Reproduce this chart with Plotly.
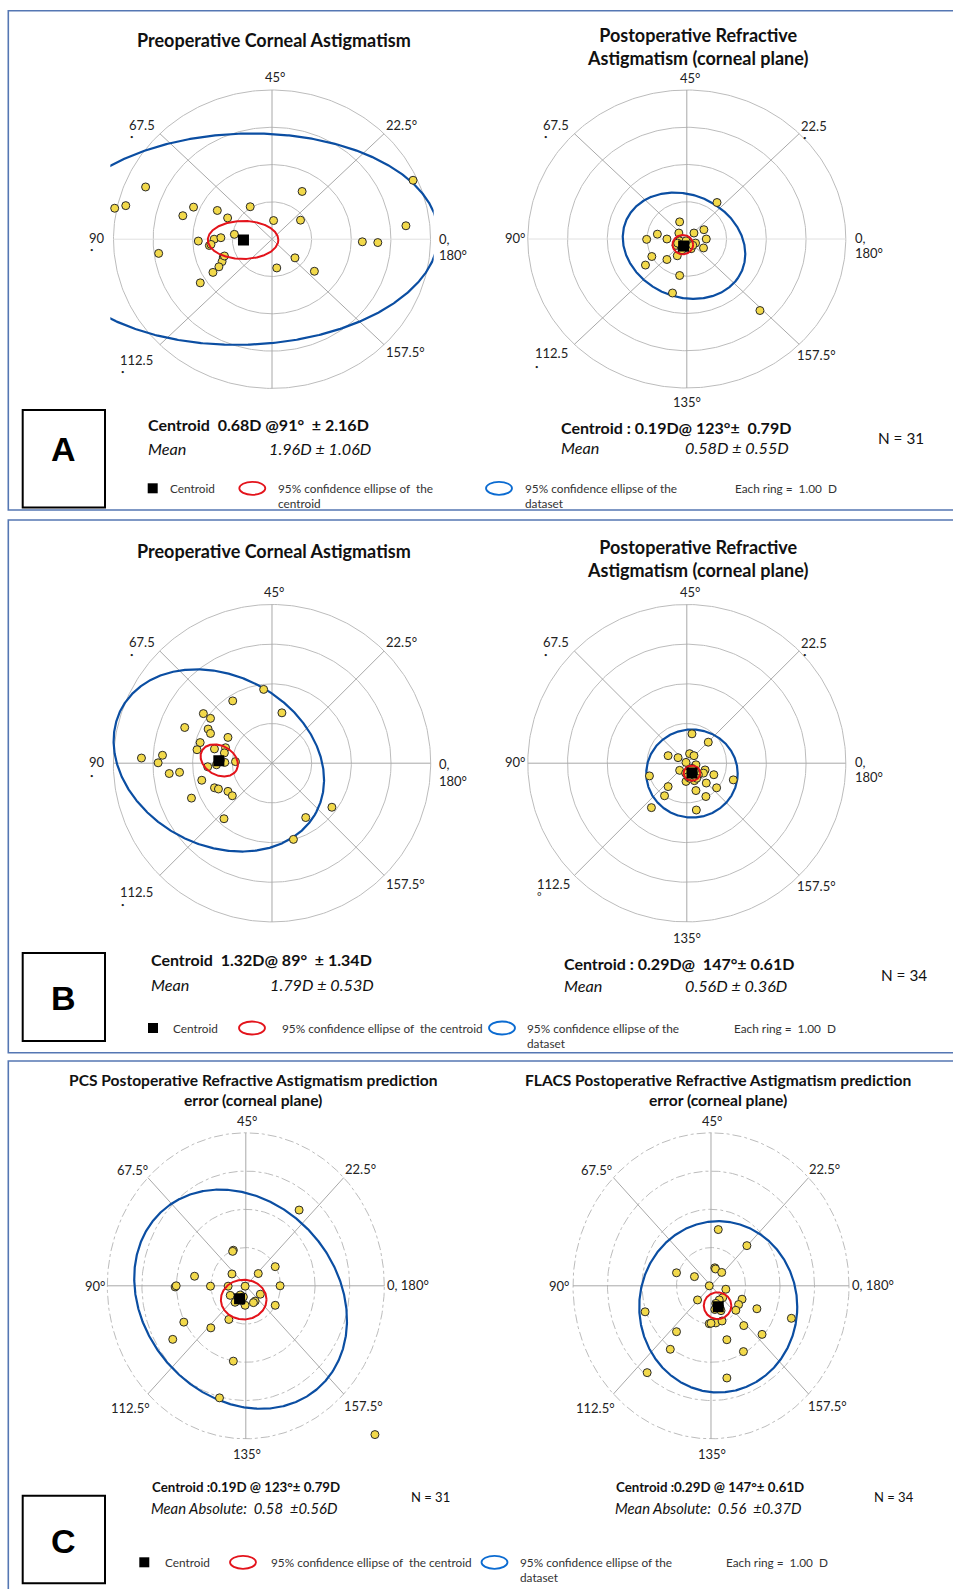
import numpy as np
import plotly.graph_objects as go

W, H = 953, 1589
FONT = "Lato, 'Open Sans', sans-serif"

# ---------------- data: double-angle vector components (D) ----------------
a_pre_x = [-3.97,-3.69,-3.19,-2.25,-1.98,-1.38,-1.12,-0.55,0.76,0.04,0.72,3.56,3.38,2.28,2.67,-1.86,-1.58,-1.46,-1.29,-0.95,-2.86,-1.23,-1.26,-1.34,-1.49,-1.81,0.58,0.12,1.07,-1.20,-1.54]
a_pre_y = [0.83,0.90,1.40,0.63,0.86,0.77,0.57,0.87,1.28,0.50,0.51,1.58,0.36,-0.07,-0.09,-0.05,-0.17,0.00,0.04,0.13,-0.38,-0.48,-0.60,-0.74,-0.89,-1.17,-0.50,-0.77,-0.86,-0.45,-0.14]
a_post_x = [0.76,-0.18,-0.74,-1.01,-0.50,-0.20,0.18,0.43,0.49,0.42,0.22,-0.27,0.07,-0.24,-0.50,-0.88,-1.04,-0.18,-0.36,1.84,-0.10,-0.03,-0.14,0.03,0.11,-0.06,-0.18,0.15,-0.12,-0.23,-0.02]
a_post_y = [0.98,0.46,0.13,-0.01,0.00,0.16,0.16,0.25,0.00,-0.24,-0.11,-0.17,-0.20,-0.45,-0.55,-0.47,-0.70,-0.98,-1.45,-1.92,-0.13,-0.23,-0.21,-0.11,-0.26,-0.17,-0.05,-0.17,-0.29,-0.11,-0.05]
b_pre_x = [-0.21,-0.99,0.25,-1.73,-1.55,-2.20,-1.61,-1.55,-1.11,-1.81,-1.89,-1.45,-1.17,-1.20,-3.29,-2.76,-2.87,-1.19,-0.92,-1.62,-2.59,-2.33,-1.77,-1.45,-1.35,-1.11,-1.00,-2.03,-1.21,1.51,0.85,0.54,-1.30,-1.40]
b_pre_y = [1.86,1.57,1.27,1.25,1.13,0.90,0.86,0.75,0.65,0.52,0.34,0.36,0.39,0.26,0.13,0.20,0.01,0.02,0.04,-0.09,-0.26,-0.23,-0.43,-0.62,-0.65,-0.71,-0.82,-0.88,-1.40,-1.11,-1.37,-1.92,0.08,-0.04]
b_post_x = [0.13,0.54,-0.47,-0.22,0.07,0.18,-0.02,0.23,-0.18,-0.94,0.46,0.42,0.68,1.17,0.49,0.75,0.23,0.48,-0.47,-0.56,-0.89,0.24,-0.02,0.19,0.07,0.29,0.11,0.15,0.05,-0.03,0.19,0.03,0.13,0.25]
b_post_y = [0.74,0.53,0.19,0.14,0.24,0.19,0.02,-0.04,-0.18,-0.32,-0.17,-0.25,-0.29,-0.42,-0.50,-0.62,-0.69,-0.84,-0.59,-0.82,-1.12,-1.18,-0.46,-0.44,-0.38,-0.29,-0.21,-0.29,-0.17,-0.25,-0.19,-0.34,-0.13,-0.38]
c_pcs_x = [1.54,-0.36,-0.38,0.85,-0.40,0.36,-1.48,-2.04,-2.01,-1.02,-0.51,-0.02,0.99,-0.45,0.42,0.27,0.22,-0.02,0.85,-0.49,-1.79,-1.01,-2.11,-0.36,-0.76,3.73,-0.24,-0.12,-0.16,-0.31,-0.07]
c_pcs_y = [1.98,0.93,0.90,0.50,0.31,0.32,0.25,-0.03,0.00,-0.01,-0.01,-0.01,0.00,-0.25,-0.22,-0.40,-0.44,-0.51,-0.51,-0.88,-0.95,-1.10,-1.40,-1.97,-2.93,-3.89,-0.33,-0.39,-0.24,-0.43,-0.29]
c_flacs_x = [0.21,1.04,0.11,0.13,0.31,-1.00,-0.48,-0.05,0.43,-0.39,0.34,0.24,0.90,0.80,0.72,1.33,-1.91,2.33,-0.05,0.14,0.32,0.95,1.48,-1.00,0.46,-1.18,0.94,-1.85,0.46,0.00,0.14,0.26,0.11,0.29]
c_flacs_y = [1.47,1.05,0.47,0.44,0.35,0.34,0.24,0.00,-0.09,-0.37,-0.31,-0.37,-0.35,-0.49,-0.64,-0.60,-0.68,-0.85,-0.99,-0.97,-0.92,-1.04,-1.27,-1.20,-1.41,-1.66,-1.72,-2.27,-2.41,-0.98,-0.46,-0.57,-0.62,-0.65]

# centroids (x, y) in D
centroids = [(-0.72, -0.02), (-0.08, -0.19), (-1.34, 0.06), (0.13, -0.25), (-0.18, -0.34), (0.21, -0.55)]
# 95% ellipses: (cx, cy, semi-a, semi-b, tilt deg)
red_ellipses = [(-0.73, -0.02, 0.89, 0.51, 0), (-0.10, -0.15, 0.26, 0.26, 0), (-1.33, 0.07, 0.50, 0.37, -30),
                (0.13, -0.25, 0.21, 0.19, 0), (-0.06, -0.36, 0.66, 0.52, 0), (0.19, -0.52, 0.40, 0.35, 0)]
blue_ellipses = [(-0.70, 0.00, 4.90, 2.83, 2), (-0.07, -0.18, 1.61, 1.35, -32), (-1.34, 0.07, 2.78, 2.14, -28),
                 (0.13, -0.26, 1.15, 1.11, 0), (-0.15, -0.35, 3.26, 2.65, -35), (0.21, -0.55, 2.29, 2.24, 0)]
ring_values = [1, 2, 3, 4]  # each ring = 1.00 D
spoke_angles = [0, 45, 90, 135]  # plot angles (2x axis)

points = [(a_pre_x, a_pre_y), (a_post_x, a_post_y), (b_pre_x, b_pre_y),
          (b_post_x, b_post_y), (c_pcs_x, c_pcs_y), (c_flacs_x, c_flacs_y)]

# subplot geometry in pixels: centre x, centre y, horizontal radius, vertical radius of the 4 D ring
geom = [(272.0, 239.2, 158.5, 149.2), (686.8, 239.0, 159.0, 149.0),
        (272.0, 763.2, 158.7, 158.7), (686.8, 763.2, 159.0, 158.7),
        (245.8, 1285.8, 138.5, 153.0), (711.0, 1285.8, 138.0, 153.0)]
ring_dash = ["solid", "solid", "solid", "solid", "dashdot", "dashdot"]

R = 4.08
fig = go.Figure()
layout_axes = {}


def ellipse(cx, cy, a, b, phi):
    t = np.linspace(0, 2 * np.pi, 721)
    p = np.radians(phi)
    x = cx + a * np.cos(t) * np.cos(p) - b * np.sin(t) * np.sin(p)
    y = cy + a * np.cos(t) * np.sin(p) + b * np.sin(t) * np.cos(p)
    return x, y


for i in range(6):
    n = i + 1
    xa = "x" if n == 1 else f"x{n}"
    ya = "y" if n == 1 else f"y{n}"
    cx, cy, rh, rv = geom[i]
    hw = rh * R / 4
    hh = rv * R / 4
    layout_axes["xaxis" if n == 1 else f"xaxis{n}"] = dict(
        domain=[(cx - hw) / W, (cx + hw) / W], range=[-R, R], visible=False, anchor=ya, fixedrange=True)
    layout_axes["yaxis" if n == 1 else f"yaxis{n}"] = dict(
        domain=[1 - (cy + hh) / H, 1 - (cy - hh) / H], range=[-R, R], visible=False, anchor=xa, fixedrange=True)

    t = np.linspace(0, 2 * np.pi, 361)
    for r in ring_values:
        fig.add_trace(go.Scatter(x=r * np.cos(t), y=r * np.sin(t), mode="lines", xaxis=xa, yaxis=ya,
                                 line=dict(color="#bcbcbc", width=1, dash=ring_dash[i]),
                                 hoverinfo="skip", showlegend=False))
    for ang in spoke_angles:
        a = np.radians(ang)
        rr = np.array([-ring_values[-1], ring_values[-1]])
        col = "#e0e0e0" if (ang == 0 and i < 2) else "#a8a8a8"
        fig.add_trace(go.Scatter(x=rr * np.cos(a), y=rr * np.sin(a), mode="lines", xaxis=xa, yaxis=ya,
                                 line=dict(color=col, width=1), hoverinfo="skip", showlegend=False))
    bx, by = ellipse(*blue_ellipses[i])
    fig.add_trace(go.Scatter(x=bx, y=by, mode="lines", xaxis=xa, yaxis=ya,
                             line=dict(color="#0b4ea2", width=2.2), hoverinfo="skip", showlegend=False))
    px_, py_ = points[i]
    fig.add_trace(go.Scatter(x=px_, y=py_, mode="markers", xaxis=xa, yaxis=ya, cliponaxis=False,
                             marker=dict(size=8, color="#f2d94a", line=dict(color="#2a2a2a", width=1)),
                             showlegend=False))
    rx, ry = ellipse(*red_ellipses[i])
    fig.add_trace(go.Scatter(x=rx, y=ry, mode="lines", xaxis=xa, yaxis=ya,
                             line=dict(color="#e3131b", width=2), hoverinfo="skip", showlegend=False))
    fig.add_trace(go.Scatter(x=[centroids[i][0]], y=[centroids[i][1]], mode="markers", xaxis=xa, yaxis=ya,
                             marker=dict(size=11, color="black", symbol="square"), showlegend=False))

ann_list = []


def ann(text, x, y, size=12, bold=False, italic=False, xanchor="center", yanchor="middle",
        color="#222222", align="center", family=FONT):
    if bold:
        text = f"<b>{text}</b>"
    if italic:
        text = f"<i>{text}</i>"
    ann_list.append(dict(text=text, x=x / W, y=1 - y / H, xref="paper", yref="paper", showarrow=False,
                         font=dict(family=family, size=size, color=color), xanchor=xanchor, yanchor=yanchor,
                         align=align))


NB = "\u00a0"
# titles
TT = 18
ann("Preoperative Corneal Astigmatism", 273.7, 40, size=TT, bold=True, color="#111")
ann("Postoperative Refractive<br>Astigmatism (corneal plane)", 697.3, 46.7, size=TT, bold=True, color="#111")
ann("Preoperative Corneal Astigmatism", 273.8, 551, size=TT, bold=True, color="#111")
ann("Postoperative Refractive<br>Astigmatism (corneal plane)", 697.7, 559, size=TT, bold=True, color="#111")
ann("PCS Postoperative Refractive Astigmatism prediction<br>error (corneal plane)", 253.2, 1089.7, size=15.6,
    bold=True, color="#111")
ann("FLACS Postoperative Refractive Astigmatism prediction<br>error (corneal plane)", 717.7, 1089.7, size=15.6,
    bold=True, color="#111")

# angle labels
LS = 13
dot = "•"
# A-left
for (t_, x_, y_) in [("45°", 275, 77.3), ("67.5", 141.7, 125), ("22.5°", 401.7, 125), ("90", 96.7, 237.7),
                     ("112.5", 136.7, 360), ("157.5°", 405, 352.3)]:
    ann(t_, x_, y_, size=LS)
for (x_, y_) in [(131.7, 137), (91.7, 249.3), (122.3, 371.7)]:
    ann(dot, x_, y_, size=6)
ann("0,", 437, 239.3, size=LS, xanchor="left")
ann("180°", 437, 255, size=LS, xanchor="left")
# A-right
for (t_, x_, y_) in [("45°", 690.3, 78.3), ("67.5", 556, 125), ("22.5", 814.3, 126), ("90°", 515.3, 237.7),
                     ("112.5", 551, 352.7), ("157.5°", 816, 355), ("135°", 686.7, 402.3)]:
    ann(t_, x_, y_, size=LS)
for (x_, y_) in [(545.3, 136.7), (804.3, 137.3), (536, 366)]:
    ann(dot, x_, y_, size=6)
ann("0,", 852.7, 237.7, size=LS, xanchor="left")
ann("180°", 852.7, 252.7, size=LS, xanchor="left")
# B-left
for (t_, x_, y_) in [("45°", 274.3, 591.7), ("67.5", 141.7, 641.7), ("22.5°", 401.7, 642.3), ("90", 96.7, 762.3),
                     ("112.5", 136.7, 891.7), ("157.5°", 405, 884.3)]:
    ann(t_, x_, y_, size=LS)
for (x_, y_) in [(131, 654.3), (91, 775), (122.3, 904)]:
    ann(dot, x_, y_, size=6)
ann("0,", 437, 764.3, size=LS, xanchor="left")
ann("180°", 437, 780.7, size=LS, xanchor="left")
# B-right
for (t_, x_, y_) in [("45°", 690.3, 592.3), ("67.5", 556, 641.7), ("22.5", 814.3, 642.7), ("90°", 515.3, 761.7),
                     ("112.5", 553.3, 884.3), ("157.5°", 816, 886), ("135°", 687, 938)]:
    ann(t_, x_, y_, size=LS)
for (x_, y_) in [(545.3, 654.3), (804.3, 655)]:
    ann(dot, x_, y_, size=6)
ann("°", 539.3, 897, size=11)
ann("0,", 852.7, 761.7, size=LS, xanchor="left")
ann("180°", 852.7, 777.3, size=LS, xanchor="left")
# C-left / C-right
for (t_, x_, y_) in [("45°", 246.7, 1121), ("67.5°", 132.7, 1170), ("22.5°", 360, 1169.3), ("90°", 95, 1285.7),
                     ("0, 180°", 408.3, 1285), ("112.5°", 130.7, 1408.3), ("157.5°", 363.3, 1405.7),
                     ("135°", 247.3, 1454.3),
                     ("45°", 712, 1121), ("67.5°", 596.7, 1170), ("22.5°", 824.3, 1169.3), ("90°", 558.7, 1285.7),
                     ("0, 180°", 872.7, 1285), ("112.5°", 595.3, 1407.7), ("157.5°", 827.7, 1405.7),
                     ("135°", 712, 1454.3)]:
    ann(t_, x_, y_, size=LS)

# statistics text
ST = 16
SI = 16.2
ann(f"Centroid{NB}{NB}0.68D @91°{NB}{NB}± 2.16D", 146, 424.3, size=ST, bold=True, xanchor="left", color="#111")
ann("Mean", 146, 448.3, size=SI, italic=True, xanchor="left", color="#111")
ann("1.96D ± 1.06D", 266.7, 448.3, size=SI, italic=True, xanchor="left", color="#111")
ann(f"Centroid : 0.19D@ 123°±{NB}{NB}0.79D", 558.7, 427.3, size=ST, bold=True, xanchor="left", color="#111")
ann("Mean", 558.7, 447.3, size=SI, italic=True, xanchor="left", color="#111")
ann("0.58D ± 0.55D", 682.7, 447.3, size=SI, italic=True, xanchor="left", color="#111")
ann("N = 31", 876, 438.3, size=15.3, xanchor="left", color="#111")

ann(f"Centroid{NB}{NB}1.32D@ 89°{NB}{NB}± 1.34D", 149, 959.5, size=ST, bold=True, xanchor="left", color="#111")
ann("Mean", 149, 984, size=SI, italic=True, xanchor="left", color="#111")
ann("1.79D ± 0.53D", 268, 984, size=SI, italic=True, xanchor="left", color="#111")
ann(f"Centroid : 0.29D@{NB}{NB}147°± 0.61D", 562, 963, size=ST, bold=True, xanchor="left", color="#111")
ann("Mean", 562, 985, size=SI, italic=True, xanchor="left", color="#111")
ann("0.56D ± 0.36D", 682.7, 985, size=SI, italic=True, xanchor="left", color="#111")
ann("N = 34", 879, 975, size=15.3, xanchor="left", color="#111")

ann("Centroid :0.19D @ 123°± 0.79D", 150, 1486.7, size=13.3, bold=True, xanchor="left", color="#111")
ann(f"Mean Absolute:{NB}{NB}0.58{NB}{NB}±0.56D", 149.3, 1508.3, size=14.8, italic=True, xanchor="left",
    color="#111")
ann("N = 31", 409.3, 1497.3, size=13, xanchor="left", color="#111")
ann("Centroid :0.29D @ 147°± 0.61D", 614, 1486.7, size=13.3, bold=True, xanchor="left", color="#111")
ann(f"Mean Absolute:{NB}{NB}0.56{NB}{NB}±0.37D", 613.3, 1508.3, size=14.8, italic=True, xanchor="left",
    color="#111")
ann("N = 34", 872, 1497.3, size=13, xanchor="left", color="#111")

# panel letters
LETTER_FONT = "'Liberation Sans', Arial, sans-serif"
for (t_, x_, y_) in [("A", 63.5, 449), ("B", 63.5, 997.5), ("C", 63.5, 1540.5)]:
    ann(t_, x_, y_, size=34, bold=True, color="#000", family=LETTER_FONT)

# legends
LG = 11.8
shapes = []


def legend_row(y, sq_x, cen_x, red_cx, red_tx, red_text, blue_cx, blue_tx, ring_x):
    shapes.append(dict(type="rect", xref="paper", yref="paper", x0=(sq_x - 5) / W, x1=(sq_x + 5) / W,
                       y0=1 - (y + 5) / H, y1=1 - (y - 5) / H, fillcolor="black", line=dict(width=0)))
    ann("Centroid", cen_x, y, size=LG, xanchor="left", color="#333")
    for cxx, colr in [(red_cx, "#e3131b"), (blue_cx, "#0b6bd1")]:
        shapes.append(dict(type="circle", xref="paper", yref="paper", x0=(cxx - 13) / W, x1=(cxx + 13) / W,
                           y0=1 - (y + 6.5) / H, y1=1 - (y - 6.5) / H, line=dict(color=colr, width=1.8)))
    ann(red_text, red_tx, y - 9.5, size=LG, xanchor="left", yanchor="top", align="left", color="#333")
    ann("95% confidence ellipse of the<br>dataset", blue_tx, y - 9.5, size=LG, xanchor="left", yanchor="top",
        align="left", color="#333")
    ann(f"Each ring ={NB}{NB}1.00{NB}{NB}D", ring_x, y, size=LG, xanchor="left", color="#333")


legend_row(488.3, 152.7, 168.3, 252.3, 276, "95% confidence ellipse of  the<br>centroid", 499, 522.7, 732.7)
legend_row(1028, 153, 171, 252, 279.8, "95% confidence ellipse of  the centroid", 502, 525, 732)
legend_row(1562.3, 144.3, 162.7, 243, 269.3, "95% confidence ellipse of  the centroid", 494.5, 518, 724)

# letter boxes
for (y0, y1) in [(410, 507.5), (953, 1041), (1495.7, 1583.3)]:
    shapes.append(dict(type="rect", xref="paper", yref="paper", x0=22.7 / W, x1=105 / W,
                       y0=1 - y1 / H, y1=1 - y0 / H, line=dict(color="black", width=2)))
# panel frames
for (y0, y1) in [(10.7, 510), (520, 1052.7), (1061, 1610)]:
    shapes.append(dict(type="rect", xref="paper", yref="paper", x0=8.3 / W, x1=970 / W,
                       y0=1 - y1 / H, y1=1 - y0 / H, line=dict(color="#5577b3", width=1.6)))

fig.update_layout(width=W, height=H, margin=dict(l=0, r=0, t=0, b=0), paper_bgcolor="white",
                  plot_bgcolor="rgba(0,0,0,0)", annotations=ann_list, shapes=shapes, showlegend=False,
                  **layout_axes)
fig.write_html("out.html", config={"displayModeBar": False},
               post_script="document.body.style.margin='0px';document.body.style.overflow='hidden';")
